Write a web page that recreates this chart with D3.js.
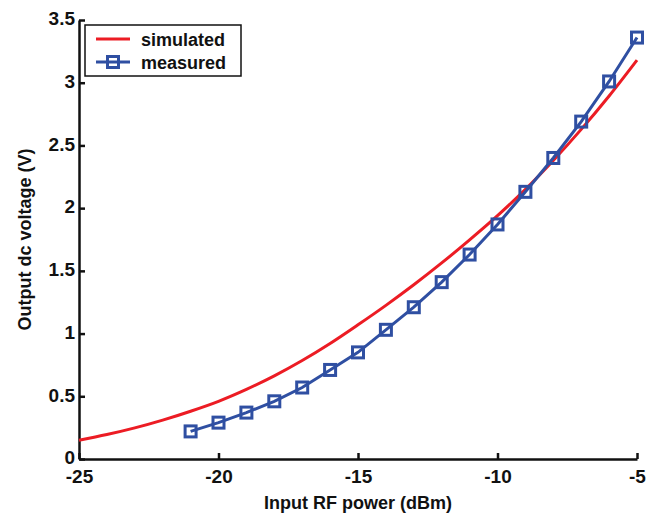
<!DOCTYPE html>
<html lang="en">

<head>
    <meta charset="UTF-8">
    <title>Output dc voltage vs input RF power</title>
    <script src="https://d3js.org/d3.v7.min.js" charset="utf-8"></script>
    <style type="text/css">
        body {
            margin: 0;
            background: #fff;
            font-family: Arial, "Liberation Sans", Helvetica, sans-serif;
            font-weight: bold;
        }

        .axis path,
        .axis line {
            fill: none;
            stroke: #111;
            stroke-width: 2.5px;
        }

        .axis text {
            font-family: Arial, "Liberation Sans", sans-serif;
            font-weight: bold;
            font-size: 19px;
            fill: #111;
        }
    </style>
</head>

<body>
    <script type="text/javascript">
        // simulated curve
        const simPower = [-25, -24, -23, -22, -21, -20, -19, -18, -17, -16, -15, -14, -13, -12, -11, -10, -9, -8, -7, -6, -5];
        const simVoltage = [0.15, 0.195, 0.248, 0.31, 0.381, 0.46, 0.555, 0.663, 0.785, 0.921, 1.07, 1.225, 1.389, 1.563, 1.747, 1.94, 2.15, 2.38, 2.628, 2.894, 3.18];

        // measured points
        const measPower = [-21, -20, -19, -18, -17, -16, -15, -14, -13, -12, -11, -10, -9, -8, -7, -6, -5];
        const measVoltage = [0.22, 0.29, 0.37, 0.46, 0.57, 0.71, 0.85, 1.03, 1.21, 1.41, 1.63, 1.87, 2.13, 2.40, 2.69, 3.01, 3.36];

        const xTicks = [-25, -20, -15, -10, -5];
        const yTicks = [0, 0.5, 1, 1.5, 2, 2.5, 3, 3.5];
        const seriesNames = ["simulated", "measured"];

        let w = 650,
            h = 517,
            margin = {
                top: 20,
                right: 13,
                bottom: 58,
                left: 79
            };

        const red = "#ec1c24",
            blue = "#2f4fa2";

        let svg = d3.select("body").append("svg").attr("width", w).attr("height", h);

        const xScale = d3.scaleLinear()
            .domain([-25, -5])
            .range([margin.left, w - margin.right]);

        const yScale = d3.scaleLinear()
            .domain([0, 3.5])
            .range([h - margin.bottom, margin.top]);

        // axes, ticks pointing inward
        const xAxis = d3.axisBottom(xScale)
            .tickValues(xTicks)
            .tickSizeInner(-6)
            .tickSizeOuter(0)
            .tickPadding(11)
            .tickFormat(d3.format("d"));

        svg.append("g")
            .attr("class", "axis")
            .attr("transform", `translate(0, ${h - margin.bottom})`)
            .call(xAxis);

        const yAxis = d3.axisLeft(yScale)
            .tickValues(yTicks)
            .tickSizeInner(-6)
            .tickSizeOuter(0)
            .tickPadding(4)
            .tickFormat(d => d);

        const yG = svg.append("g")
            .attr("class", "axis")
            .attr("transform", `translate(${margin.left}, 0)`)
            .call(yAxis);

        // labels sit a touch above the tick, like the original
        yG.selectAll("text").attr("dy", "0.25em");

        // minus sign as plain hyphen like the original
        svg.selectAll(".axis text").text(function () {
            return this.textContent.replace("\u2212", "-");
        });

        const simData = simPower.map((p, i) => ({ x: p, y: simVoltage[i] }));
        const measData = measPower.map((p, i) => ({ x: p, y: measVoltage[i] }));

        // simulated line
        const simLine = d3.line()
            .x(d => xScale(d.x))
            .y(d => yScale(d.y))
            .curve(d3.curveCatmullRom);

        svg.append("path")
            .datum(simData)
            .attr("d", simLine)
            .attr("fill", "none")
            .attr("stroke", red)
            .attr("stroke-width", 3);

        // measured line + square markers
        const measLine = d3.line()
            .x(d => xScale(d.x))
            .y(d => yScale(d.y));

        svg.append("path")
            .datum(measData)
            .attr("d", measLine)
            .attr("fill", "none")
            .attr("stroke", blue)
            .attr("stroke-width", 3);

        const sq = 11;
        svg.selectAll("rect.marker")
            .data(measData)
            .enter()
            .append("rect")
            .attr("class", "marker")
            .attr("x", d => xScale(d.x) - sq / 2)
            .attr("y", d => yScale(d.y) - sq / 2)
            .attr("width", sq)
            .attr("height", sq)
            .attr("fill", "none")
            .attr("stroke", blue)
            .attr("stroke-width", 3);

        // axis labels
        svg.append("text")
            .attr("x", (margin.left + w - margin.right) / 2)
            .attr("y", 509)
            .attr("text-anchor", "middle")
            .style("font-size", "18px")
            .attr("fill", "#111")
            .text("Input RF power (dBm)");

        svg.append("text")
            .attr("transform", `translate(31, ${(margin.top + h - margin.bottom) / 2}) rotate(-90)`)
            .attr("text-anchor", "middle")
            .style("font-size", "18px")
            .attr("fill", "#111")
            .text("Output dc voltage (V)");

        // legend
        const lg = svg.append("g").attr("transform", "translate(85, 25)");
        lg.append("rect")
            .attr("width", 156)
            .attr("height", 51)
            .attr("fill", "#fff")
            .attr("stroke", "#111")
            .attr("stroke-width", 1.5);

        const rows = [{ name: seriesNames[0], color: red, marker: false, y: 14 },
            { name: seriesNames[1], color: blue, marker: true, y: 37 }];

        rows.forEach(r => {
            lg.append("line")
                .attr("x1", 11).attr("x2", 45)
                .attr("y1", r.y).attr("y2", r.y)
                .attr("stroke", r.color)
                .attr("stroke-width", 3);
            if (r.marker) {
                lg.append("rect")
                    .attr("x", 28 - sq / 2).attr("y", r.y - sq / 2)
                    .attr("width", sq).attr("height", sq)
                    .attr("fill", "none")
                    .attr("stroke", r.color)
                    .attr("stroke-width", 3);
            }
            lg.append("text")
                .attr("x", 56)
                .attr("y", r.y + 7)
                .style("font-size", "18px")
                .attr("fill", "#111")
                .text(r.name);
        });
    </script>
</body>

</html>
